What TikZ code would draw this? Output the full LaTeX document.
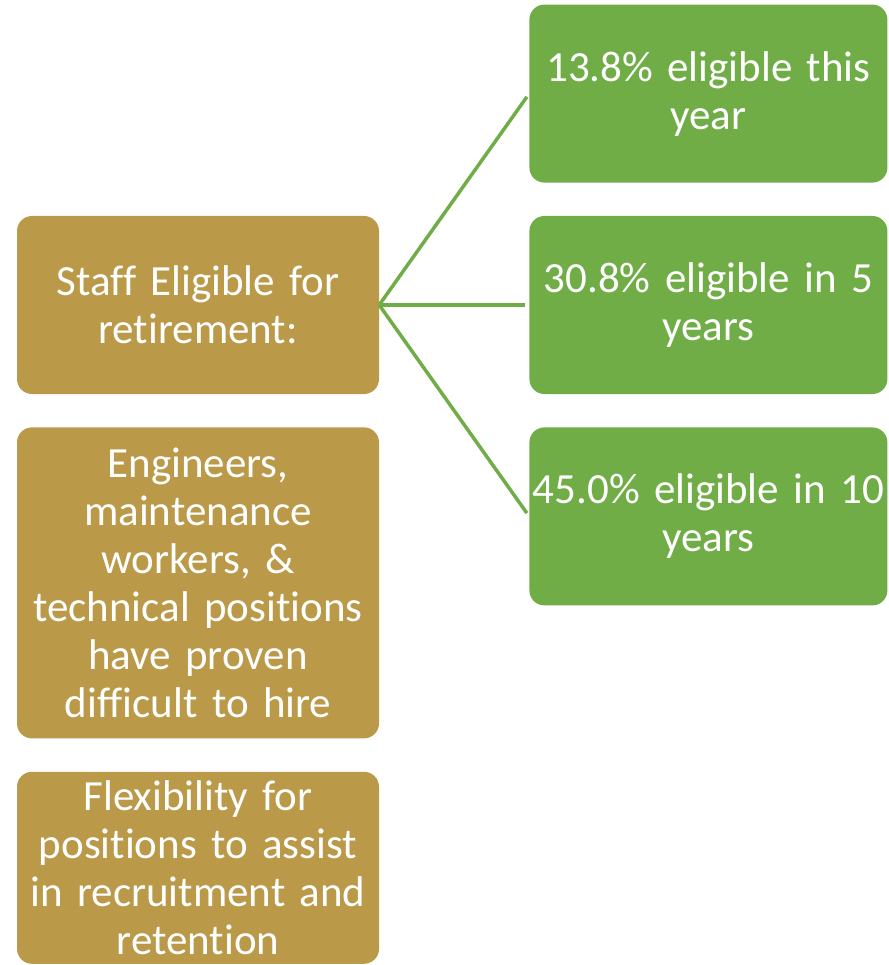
\documentclass[tikz,border=0pt]{standalone}
\usepackage{fontspec}
\setmainfont{Carlito}[Ligatures=NoCommon]
\usetikzlibrary{positioning}
\definecolor{boxgold}{RGB}{186,153,72}
\definecolor{boxgreen}{RGB}{112,173,71}
\tikzset{node distance=33pt,
         every node/.style={font=\fontsize{43pt}{48pt}\selectfont, text=white, align=center, inner xsep=0pt},
         gold/.style={fill=boxgold, rounded corners=15pt, minimum width=362pt, text width=362pt},
         green/.style={fill=boxgreen, rounded corners=15pt, minimum width=358pt, text width=358pt, minimum height=178pt},
         every edge/.style={draw=boxgreen, line width=3.5pt, shorten >=4pt} }

\begin{document}
\begin{tikzpicture}[x=1pt, y=1pt]
    \useasboundingbox (0,0) rectangle (888,-965);
    \node[gold, minimum height=178pt] (staff) at (198,-305) {Staff Eligible for\\retirement:};
    \node[gold, minimum height=311pt, below=of staff] (hire) {Engineers,\\maintenance\\workers, \&\\technical positions\\have proven\\difficult to hire};
    \node[gold, minimum height=192pt, below=of hire] (flex) {Flexibility for\\positions to assist\\in recruitment and\\retention};
    \node[green, right=150pt of staff] (five) {30.8\% eligible in 5\\years};
    \node[green, above=of five] (now) {13.8\% eligible this\\year};
    \node[green, below=of five] (ten) {45.0\% eligible in 10\\years};
    \draw (staff.east) edge (now.west);
    \draw (staff.east) edge (five.west);
    \draw (staff.east) edge (ten.west);
\end{tikzpicture}
\end{document}
